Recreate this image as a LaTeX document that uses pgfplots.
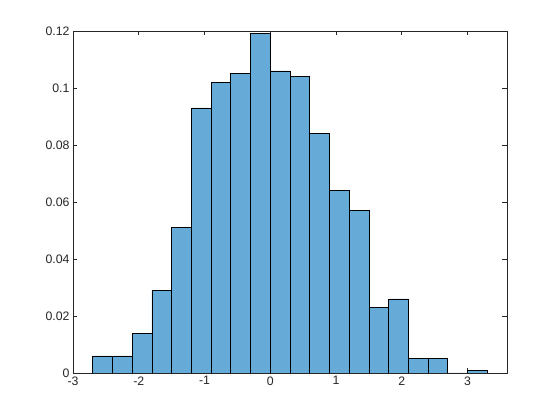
\documentclass[border=0pt]{standalone}
\usepackage{fontspec}
\setmainfont{Liberation Sans}
\usepackage{pgfplots}
\pgfplotsset{compat=1.18}
\definecolor{barblue}{RGB}{102,170,215}
\definecolor{axgray}{RGB}{38,38,38}

\begin{document}
\begin{tikzpicture}
\useasboundingbox (-73pt,-47pt) rectangle (487pt,373pt);
\begin{axis}[
    scale only axis,
    width=434pt, height=342pt,
    xmin=-3, xmax=3.6,
    ymin=0, ymax=0.12,
    xtick={-3,-2,-1,0,1,2,3},
    ytick={0,0.02,0.04,0.06,0.08,0.1,0.12},
    scaled y ticks=false,
    yticklabel style={/pgf/number format/fixed, /pgf/number format/precision=2},
    tick align=inside,
    major tick length=4.5pt,
    axis line style={axgray, line width=0.7pt},
    every tick/.style={axgray, line width=0.7pt},
    tick label style={font=\fontsize{12.3}{14}\selectfont, text=axgray},
    /pgf/number format/assume math mode=true,
    xtick pos=both, ytick pos=both,
]
\addplot[ybar interval, fill=barblue, draw=black, line width=0.7pt]
coordinates {
(-2.7,0.006) (-2.4,0.006) (-2.1,0.014) (-1.8,0.029) (-1.5,0.051)
(-1.2,0.093) (-0.9,0.102) (-0.6,0.105) (-0.3,0.119) (0.0,0.106)
(0.3,0.104) (0.6,0.084) (0.9,0.064) (1.2,0.057) (1.5,0.023)
(1.8,0.026) (2.1,0.005) (2.4,0.005) (2.7,0) (3.0,0.001) (3.3,0)
};
\end{axis}
\end{tikzpicture}
\end{document}
